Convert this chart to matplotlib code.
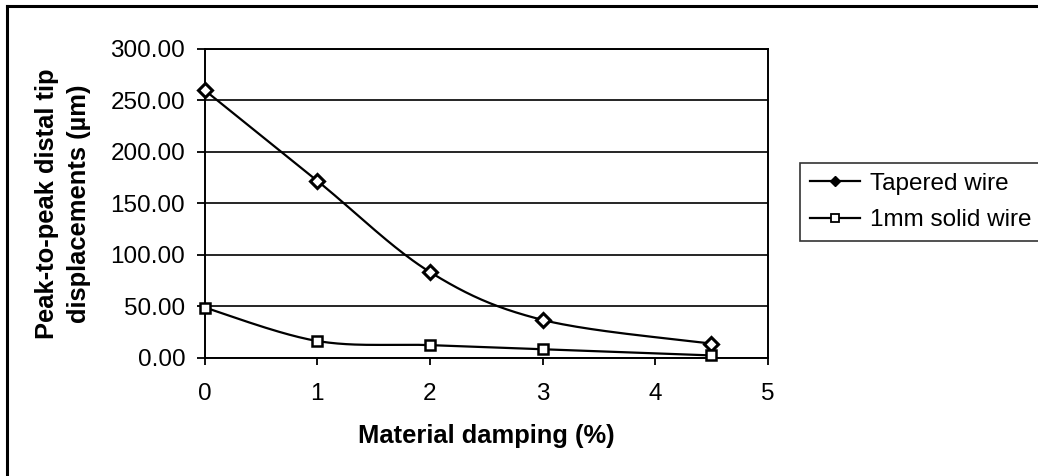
import numpy as np
import matplotlib
matplotlib.use("Agg")
import matplotlib.pyplot as plt
from matplotlib.lines import Line2D

plt.rcParams['font.family'] = ['Liberation Sans', 'DejaVu Sans']

damping = [0, 1, 2, 3, 4.5]
tapered_wire = [260.0, 172.0, 83.5, 37.0, 14.0]
solid_wire = [49.0, 16.5, 12.5, 8.5, 2.5]
series_names = ["Tapered wire", "1mm solid wire"]
y_ticks = [0, 50, 100, 150, 200, 250, 300]
x_ticks = [0, 1, 2, 3, 4, 5]


def smooth(x, y, n=40):
    """Catmull-Rom style Bezier smoothing through every point."""
    x = np.asarray(x, float)
    y = np.asarray(y, float)
    px = np.concatenate([[x[0]], x, [x[-1]]])
    py = np.concatenate([[y[0]], y, [y[-1]]])
    xs, ys = [], []
    t = np.linspace(0, 1, n)
    for i in range(1, len(px) - 2):
        p0 = np.array([px[i], py[i]])
        p3 = np.array([px[i + 1], py[i + 1]])
        c1 = p0 + (np.array([px[i + 1], py[i + 1]]) - np.array([px[i - 1], py[i - 1]])) / 6
        c2 = p3 - (np.array([px[i + 2], py[i + 2]]) - np.array([px[i], py[i]])) / 6
        b = ((1 - t) ** 3)[:, None] * p0 + (3 * (1 - t) ** 2 * t)[:, None] * c1 \
            + (3 * (1 - t) * t ** 2)[:, None] * c2 + (t ** 3)[:, None] * p3
        xs.append(b[:, 0])
        ys.append(b[:, 1])
    return np.concatenate(xs), np.concatenate(ys)


fig = plt.figure(figsize=(10.38, 4.76), dpi=100)
fig.patch.set_facecolor("white")
ax = fig.add_axes([0.1972, 0.2479, 0.5424, 0.6492])

for yv, style in ((tapered_wire, dict(marker="D", ms=7, mew=2.2)),
                  (solid_wire, dict(marker="s", ms=7.5, mew=1.8))):
    sx, sy = smooth(damping, yv)
    ax.plot(sx, sy, color="black", lw=1.6, zorder=3)
    ax.plot(damping, yv, ls="none", mfc="white", mec="black", zorder=4,
            clip_on=False, **style)

ax.set_xlim(0, 5)
ax.set_ylim(0, 300)
ax.set_xticks(x_ticks)
ax.set_yticks(y_ticks)
ax.set_yticklabels([f"{v:.2f}" for v in y_ticks])
ax.grid(axis="y", color="black", lw=1.2)
ax.set_axisbelow(True)
for s in ax.spines.values():
    s.set_color("black")
    s.set_linewidth(1.4)
ax.tick_params(axis="x", direction="out", length=5, width=1.3, pad=13,
               labelsize=17.5)
ax.tick_params(axis="y", direction="out", length=6, width=1.3, pad=8,
               labelsize=17.5)

fig.text(486 / 1038, 1 - 436 / 476, "Material damping (%)", ha="center",
         va="center", fontsize=18.4, fontweight="bold")
fig.text(63 / 1038, 1 - 204 / 476,
         "Peak-to-peak distal tip\ndisplacements (\u00b5m)", ha="center",
         va="center", rotation=90, fontsize=18.4, fontweight="bold",
         multialignment="center", linespacing=1.45)

handles = [
    Line2D([], [], color="black", lw=1.6, marker="D", ms=5, mfc="black",
           mec="black"),
    Line2D([], [], color="black", lw=1.6, marker="s", ms=6, mfc="white",
           mec="black", mew=1.3),
]
leg = fig.legend(handles, series_names, loc="center left",
                 bbox_to_anchor=(800 / 1038, 1 - 202 / 476), fontsize=17.5,
                 frameon=True, fancybox=False, edgecolor="black",
                 handlelength=2.05, handletextpad=0.45, borderpad=0.4,
                 labelspacing=0.6, borderaxespad=0)
leg.get_frame().set_linewidth(1.2)

# outer chart border (top and left edges)
fig.add_artist(Line2D([7 / 1038, 1.0], [1 - 6 / 476, 1 - 6 / 476],
                      transform=fig.transFigure, color="black", lw=2.2))
fig.add_artist(Line2D([7 / 1038, 7 / 1038], [1 - 6 / 476, 0.0],
                      transform=fig.transFigure, color="black", lw=2.2))

fig.savefig("out.png", dpi=100, facecolor="white")
